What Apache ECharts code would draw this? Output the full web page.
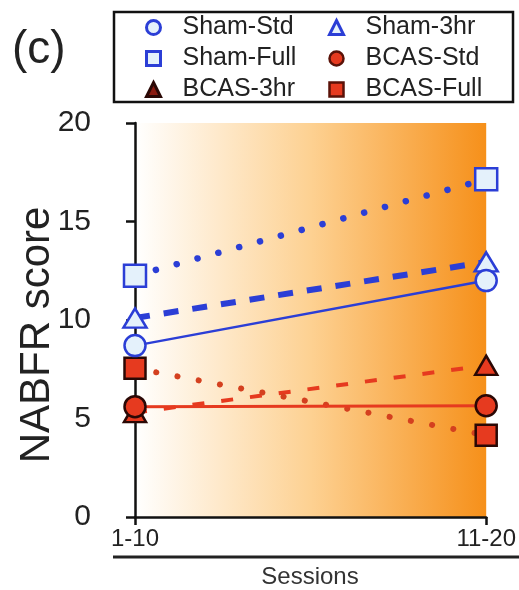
<!DOCTYPE html>
<html>
<head>
<meta charset="utf-8">
<script src="https://cdn.jsdelivr.net/npm/echarts@6/dist/echarts.min.js"></script>
<style>
html,body{margin:0;padding:0;background:#fff;}
#chart{width:519px;height:590px;}
</style>
</head>
<body>
<div id="chart"></div>
<script>
// ---- data ----
const categories = ['1-10', '11-20'];
const legendCol1 = ['Sham-Std', 'Sham-Full', 'BCAS-3hr'];
const legendCol2 = ['Sham-3hr', 'BCAS-Std', 'BCAS-Full'];
const shamStd = [8.7, 12.0];
const sham3hr = [10.1, 12.95];
const shamFull = [12.25, 17.15];
const bcasStd = [5.6, 5.65];
const bcas3hr = [5.3, 7.7];
const bcasFull = [7.55, 4.15];
const yMin = 0, yMax = 20, yStep = 5;
const panelLabel = '(c)';
const yTitle = 'NABFR score';
const xTitle = 'Sessions';

// ---- styling ----
const FONT = '"Liberation Sans", Arial, Helvetica, sans-serif';
const BLUE = '#2b3ed6';
const LIGHT = '#e4f1fb';
const RED = '#e63a1f';
const DARK = '#2a0805';

const iconStyles = {
  'Sham-Std': {icon: 'circle', itemStyle: {color: LIGHT, borderColor: BLUE, borderWidth: 3}},
  'Sham-3hr': {icon: 'triangle', itemStyle: {color: LIGHT, borderColor: BLUE, borderWidth: 3}},
  'Sham-Full': {icon: 'rect', itemStyle: {color: LIGHT, borderColor: BLUE, borderWidth: 3}},
  'BCAS-Std': {icon: 'circle', itemStyle: {color: RED, borderColor: '#5a1208', borderWidth: 2.5}},
  'BCAS-3hr': {icon: 'triangle', itemStyle: {color: '#8a1a10', borderColor: DARK, borderWidth: 3}},
  'BCAS-Full': {icon: 'rect', itemStyle: {color: RED, borderColor: '#5a1208', borderWidth: 2.5}}
};

const chart = echarts.init(document.getElementById('chart'), null, {renderer: 'canvas'});

function mk(name, data, symbol, size, lineStyle, itemStyle) {
  return {
    name: name, type: 'line', data: data, symbol: symbol, symbolSize: size,
    lineStyle: lineStyle, itemStyle: itemStyle, emphasis: {disabled: true}
  };
}
function legendCol(names, left) {
  return {
    left: left, top: 15, orient: 'vertical', padding: 0, itemGap: 6,
    itemWidth: 14, itemHeight: 14, selectedMode: false,
    textStyle: {fontFamily: FONT, fontSize: 25, lineHeight: 23, color: '#222', padding: [0, 0, 0, 17]},
    data: names.map(function (n) { return Object.assign({name: n}, iconStyles[n]); })
  };
}

const shamItem = {color: LIGHT, borderColor: BLUE, borderWidth: 2.5};
const bcasItem = {color: RED, borderColor: DARK, borderWidth: 2.5};

const option = {
  animation: false,
  textStyle: {fontFamily: FONT},
  grid: {
    left: 135, right: 32, top: 123, bottom: 73, show: true, borderWidth: 0,
    backgroundColor: new echarts.graphic.LinearGradient(0, 0, 1, 0, [
      {offset: 0, color: '#ffffff'},
      {offset: 0.5, color: '#fdd192'},
      {offset: 1, color: '#f6901a'}
    ])
  },
  legend: [legendCol(legendCol1, 145), legendCol(legendCol2, 328)],
  xAxis: {
    type: 'category', data: categories, boundaryGap: false,
    axisLine: {lineStyle: {color: '#111', width: 2.5}},
    axisTick: {show: true, alignWithLabel: true, length: 8, lineStyle: {color: '#111', width: 2.5}},
    axisLabel: {fontFamily: FONT, fontSize: 24, color: '#222', margin: 10},
    splitLine: {show: false}
  },
  yAxis: {
    type: 'value', min: yMin, max: yMax, interval: yStep,
    axisLine: {show: true, lineStyle: {color: '#111', width: 2.5}},
    axisTick: {show: true, length: 9, lineStyle: {color: '#111', width: 2.5}},
    axisLabel: {fontFamily: FONT, fontSize: 30, color: '#222', margin: 44},
    splitLine: {show: false}
  },
  graphic: [
    {type: 'rect', shape: {x: 114, y: 12, width: 399, height: 90}, style: {fill: 'none', stroke: '#111', lineWidth: 2.5}},
    {type: 'text', left: 12, top: 27, style: {text: panelLabel, font: '46px ' + FONT, fill: '#222'}},
    {type: 'text', x: 37, y: 335, rotation: Math.PI / 2,
      style: {text: yTitle, font: '42px ' + FONT, fill: '#222', align: 'center', verticalAlign: 'middle'}},
    {type: 'line', shape: {x1: 113, y1: 557, x2: 519, y2: 557}, style: {stroke: '#222', lineWidth: 3}},
    {type: 'text', x: 310, y: 577, style: {text: xTitle, font: '24px ' + FONT, fill: '#333', align: 'center', verticalAlign: 'middle'}}
  ],
  series: [
    mk('BCAS-3hr', bcas3hr, 'triangle', [22, 19], {color: RED, width: 4, type: [12, 17]}, bcasItem),
    mk('BCAS-Full', bcasFull, 'rect', 21, {color: '#d4401f', width: 6, type: [0.1, 21.5], cap: 'round'}, bcasItem),
    mk('BCAS-Std', bcasStd, 'circle', 21, {color: RED, width: 3}, bcasItem),
    mk('Sham-Full', shamFull, 'rect', 22, {color: BLUE, width: 6.5, type: [0.1, 21.5], cap: 'round'}, shamItem),
    mk('Sham-3hr', sham3hr, 'triangle', [23, 19], {color: BLUE, width: 6, type: [15, 14]}, shamItem),
    mk('Sham-Std', shamStd, 'circle', 21, {color: BLUE, width: 2.5}, shamItem)
  ]
};
chart.setOption(option);
</script>
</body>
</html>
